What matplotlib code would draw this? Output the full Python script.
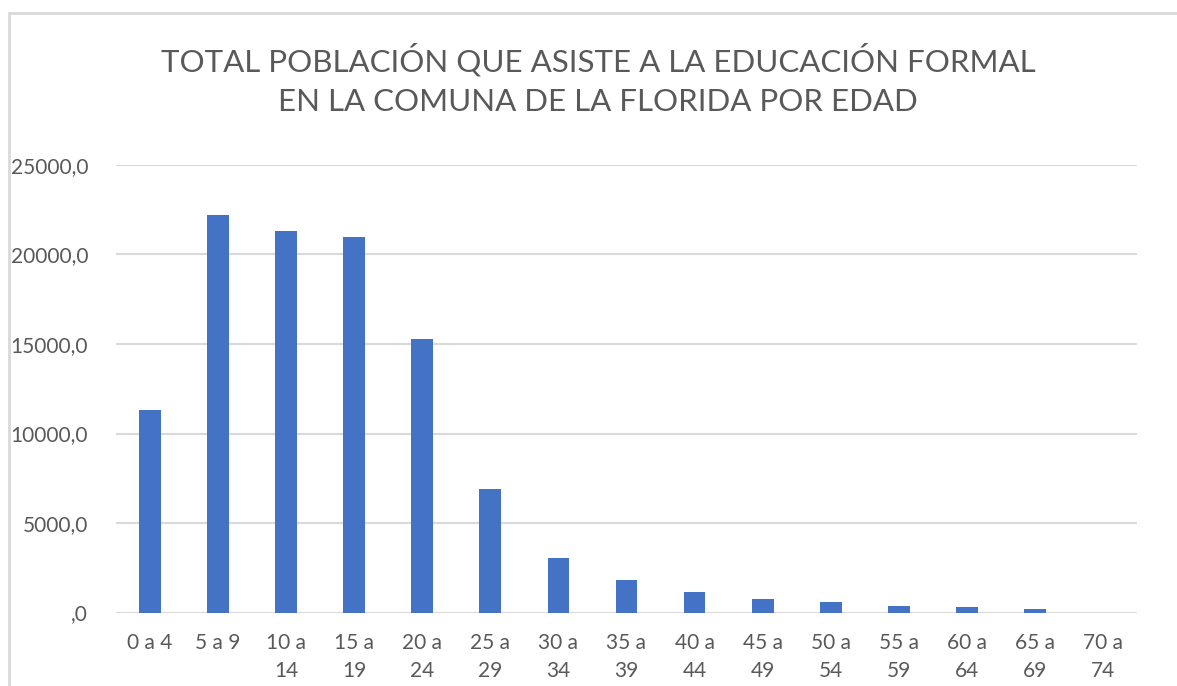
import matplotlib.pyplot as plt
from matplotlib.patches import Rectangle
from matplotlib.ticker import FuncFormatter

# age groups and number of people attending formal education
grupos = ["0 a 4", "5 a 9", "10 a\n14", "15 a\n19", "20 a\n24", "25 a\n29", "30 a\n34",
          "35 a\n39", "40 a\n44", "45 a\n49", "50 a\n54", "55 a\n59", "60 a\n64",
          "65 a\n69", "70 a\n74"]
poblacion = [11290, 22230, 21300, 21000, 15290, 6920, 3070,
             1814, 1160, 740, 590, 380, 310, 180, 0]

gris = "#595959"
plt.rcParams['font.family'] = ['Lato', 'DejaVu Sans']

fig = plt.figure(figsize=(11.77, 6.86), dpi=100)
# chart frame (cut off on the right and bottom in the original)
fig.patches.append(Rectangle((9 / 1177, -0.1), 1.2, 1 - 13 / 686 + 0.1,
                             transform=fig.transFigure, fill=False,
                             edgecolor="#D9D9D9", linewidth=2))

ax = fig.add_axes([116 / 1177, 1 - 612.5 / 686, (1137 - 116) / 1177, (612.5 - 165) / 686])
x = range(len(grupos))
ax.bar(x, poblacion, width=0.32, color="#4472C4", zorder=3)

ax.set_xlim(-0.5, len(grupos) - 0.5)
ax.set_ylim(0, 25000)
ax.set_yticks([0, 5000, 10000, 15000, 20000, 25000])
ax.yaxis.set_major_formatter(FuncFormatter(lambda v, p: ",0" if v == 0 else f"{v:.1f}".replace(".", ",")))
ax.set_xticks(list(x))
ax.set_xticklabels(grupos, linespacing=1.5)
ax.tick_params(length=0, colors=gris, labelsize=15)
ax.tick_params(axis="y", pad=20)
ax.tick_params(axis="x", pad=15)
ax.grid(axis="y", color="#D9D9D9", linewidth=1.5, zorder=0)
for s in ax.spines.values():
    s.set_visible(False)

fig.text(0.508, 1 - 60 / 686, "TOTAL POBLACIÓN QUE ASISTE A LA EDUCACIÓN FORMAL",
         ha="center", va="center", fontsize=22.5, color=gris)
fig.text(0.508, 1 - 102 / 686, "EN LA COMUNA DE LA FLORIDA POR EDAD",
         ha="center", va="center", fontsize=22.5, color=gris)

fig.savefig("out.png", dpi=100)
